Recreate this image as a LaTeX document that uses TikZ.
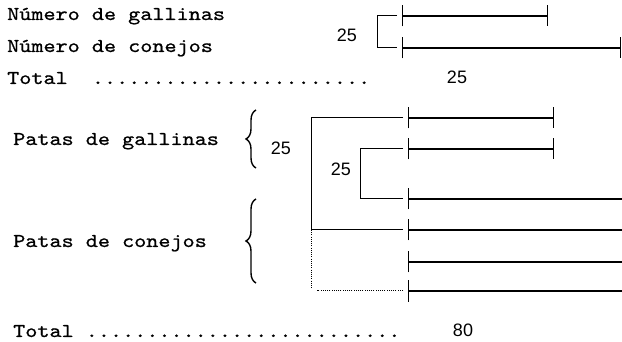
\documentclass[tikz,border=0pt]{standalone}
\usepackage{fontspec}
\usepackage{graphicx}
\usetikzlibrary{arrows.meta,decorations.pathreplacing}
\newfontfamily\numfont{Liberation Sans}
\newfontfamily\monof[FakeBold=0.8,FakeStretch=1.176]{lmmono10-regular.otf}
\newcommand{\mono}[1]{{\fontsize{19.6}{20}\selectfont\monof #1}}
\begin{document}
\begin{tikzpicture}[x=1pt,y=-1pt,
  mtext/.style={inner sep=0pt, anchor=base west},
  ntext/.style={inner sep=0pt, anchor=base, font=\numfont\fontsize{18}{20}\selectfont},
  seg/.style={line width=1.3pt, {Bar[width=21pt]}-{Bar[width=21pt]}},
  segopen/.style={line width=1.3pt, {Bar[width=21pt]}-},
  brk/.style={line width=1pt},
  dotl/.style={line width=1pt, dash pattern=on 1pt off 1.2pt},
  brc/.style={line width=1.4pt, decorate, decoration={brace, amplitude=10pt}}]
\useasboundingbox (0,0) rectangle (622,342);
% texts
\node[mtext] (ng) at (7,20) {\mono{Número de gallinas}};
\node[mtext] (nc) at (7,52) {\mono{Número de conejos}};
\node[mtext] (t1) at (7,84) {\mono{Total~~.......................}};
\node[mtext] (pg) at (13,145) {\mono{Patas de gallinas}};
\node[mtext] (pc) at (13,247) {\mono{Patas de conejos}};
\node[mtext] (t2) at (13,337) {\mono{Total ..........................}};
% numbers
\node[ntext] (n1) at (347,41.5) {25};
\node[ntext] (n2) at (457,83.5) {25};
\node[ntext] (n3) at (281,155) {25};
\node[ntext] (n4) at (341,176) {25};
\node[ntext] (n5) at (463,337) {80};
% top segments
\coordinate (s1a) at (402,16);  \coordinate (s1b) at (548,16);
\coordinate (s2a) at (402,48);  \coordinate (s2b) at (621,48);
\draw[seg] (s1a) -- (s1b);
\draw[seg] (s2a) -- (s2b);
\coordinate (ta) at (397,16); \coordinate (tb) at (397,48);
\draw[brk] (ta) -- ++(-20,0) |- (tb);
% bottom segments
\coordinate (p1a) at (408,118); \coordinate (p1b) at (554,118);
\coordinate (p2a) at (408,149); \coordinate (p2b) at (554,149);
\coordinate (p3a) at (408,199); \coordinate (p3b) at (624,199);
\coordinate (p4a) at (408,230); \coordinate (p4b) at (624,230);
\coordinate (p5a) at (408,262); \coordinate (p5b) at (624,262);
\coordinate (p6a) at (408,291); \coordinate (p6b) at (624,291);
\draw[seg] (p1a) -- (p1b);
\draw[seg] (p2a) -- (p2b);
\draw[segopen] (p3a) -- (p3b);
\draw[segopen] (p4a) -- (p4b);
\draw[segopen] (p5a) -- (p5b);
\draw[segopen] (p6a) -- (p6b);
% outer bracket
\coordinate (oa) at (403,118);
\coordinate (ob) at (403,230);
\coordinate (oc) at (403,291);
\coordinate (omid) at (311,230);
\draw[brk] (oa) -| (omid) -- (ob);
\draw[dotl] (omid) -- ++(0,59);
\draw[dotl] (oc) -- ++(-86,0);
% inner bracket
\coordinate (ia) at (403,149); \coordinate (ib) at (403,199);
\draw[brk] (ia) -- ++(-43,0) |- (ib);
% braces
\draw[brc] (256,168) -- (256,110);
\draw[brc] (256,283) -- (256,199);
\end{tikzpicture}
\end{document}
